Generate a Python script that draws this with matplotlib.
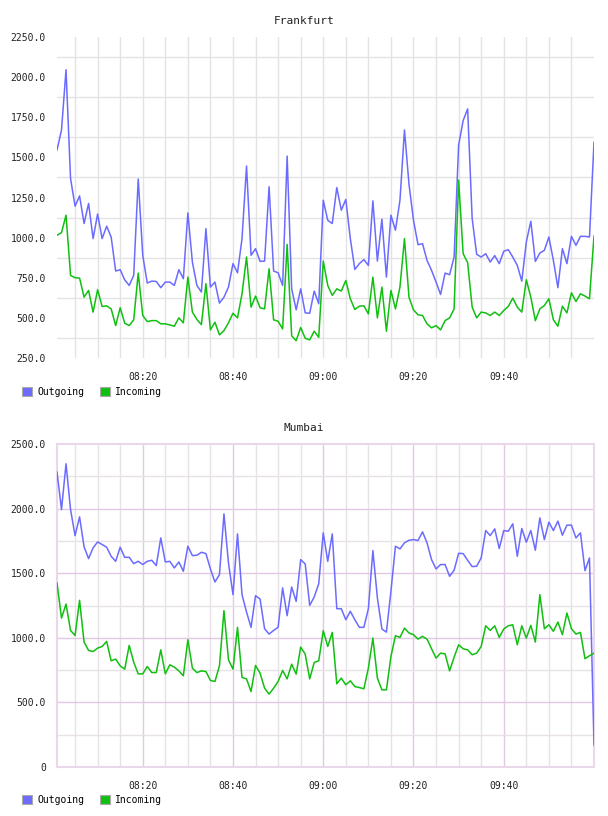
import matplotlib
matplotlib.use("Agg")
import matplotlib.pyplot as plt
from matplotlib.patches import Patch
from matplotlib.ticker import FixedLocator, FuncFormatter

plt.rcParams['font.family'] = ['DejaVu Sans Mono']

# one sample per minute, starting at 08:01
start_minute = 8 * 60 + 1
n_points = 120
minutes = [start_minute + k for k in range(n_points)]

frankfurt_out = [1546, 1671, 2046, 1369, 1196, 1260, 1088, 1213, 994, 1147,
                 994, 1071, 1004, 792, 800, 737, 702, 765, 1365, 890,
                 717, 729, 727, 688, 723, 723, 702, 800, 744, 1154,
                 848, 702, 661, 1056, 692, 723, 592, 629, 692, 838,
                 781, 994, 1446, 890, 931, 852, 854, 1317, 792, 781,
                 702, 1508, 681, 550, 681, 531, 529, 667, 588, 1233,
                 1108, 1088, 1312, 1171, 1238, 994, 802, 838, 863, 827,
                 1229, 854, 1115, 754, 1140, 1046, 1233, 1671, 1333, 1108,
                 956, 962, 858, 796, 723, 646, 779, 769, 879, 1577,
                 1729, 1802, 1119, 896, 879, 900, 848, 888, 838, 915,
                 925, 879, 827, 729, 973, 1102, 852, 904, 921, 1004,
                 858, 688, 931, 838, 1008, 952, 1008, 1008, 1004, 1594]

frankfurt_in = [1015, 1031, 1140, 765, 750, 748, 629, 671, 536, 675,
                571, 575, 556, 452, 563, 467, 452, 488, 779, 515,
                477, 483, 483, 463, 463, 456, 448, 500, 469, 754,
                536, 490, 458, 713, 425, 473, 394, 421, 469, 529,
                500, 650, 879, 567, 636, 563, 556, 806, 488, 479,
                431, 958, 388, 358, 440, 373, 363, 417, 379, 854,
                702, 640, 681, 667, 733, 619, 552, 573, 575, 525,
                754, 500, 692, 417, 671, 556, 692, 994, 629, 550,
                519, 515, 463, 438, 452, 425, 483, 500, 556, 1358,
                900, 844, 567, 500, 536, 531, 515, 536, 515, 546,
                571, 623, 567, 536, 738, 629, 483, 556, 577, 619,
                488, 448, 573, 531, 656, 602, 650, 636, 619, 1010]

mumbai_out = [2283, 1993, 2347, 1993, 1791, 1936, 1704, 1613, 1696, 1742,
              1722, 1701, 1631, 1592, 1701, 1623, 1623, 1574, 1592, 1567,
              1592, 1600, 1559, 1773, 1587, 1592, 1541, 1587, 1515, 1709,
              1636, 1639, 1662, 1652, 1533, 1432, 1489, 1959, 1579, 1334,
              1804, 1334, 1199, 1081, 1326, 1300, 1070, 1029, 1057, 1081,
              1386, 1171, 1393, 1282, 1605, 1572, 1251, 1316, 1419, 1812,
              1592, 1804, 1225, 1225, 1140, 1205, 1140, 1081, 1081, 1225,
              1675, 1308, 1068, 1044, 1360, 1709, 1688, 1735, 1755, 1760,
              1753, 1820, 1735, 1605, 1533, 1567, 1567, 1476, 1523, 1654,
              1652, 1600, 1551, 1554, 1618, 1830, 1791, 1843, 1691, 1830,
              1825, 1882, 1631, 1846, 1740, 1830, 1678, 1928, 1760, 1895,
              1830, 1903, 1794, 1872, 1872, 1773, 1812, 1520, 1618, 171]

mumbai_in = [1424, 1153, 1261, 1057, 1018, 1290, 967, 902, 894, 920,
             933, 972, 822, 835, 783, 757, 941, 811, 721, 721,
             778, 731, 731, 907, 721, 791, 773, 744, 706, 985,
             765, 731, 744, 739, 670, 662, 783, 1210, 830, 757,
             1081, 693, 682, 584, 786, 726, 610, 564, 610, 662,
             747, 682, 796, 719, 928, 874, 682, 809, 822, 1055,
             933, 1042, 644, 688, 636, 667, 623, 615, 605, 765,
             998, 688, 597, 597, 856, 1016, 1003, 1075, 1037, 1024,
             990, 1011, 990, 915, 843, 881, 876, 744, 850, 946,
             915, 907, 869, 881, 933, 1093, 1057, 1093, 1003, 1068,
             1093, 1101, 946, 1093, 998, 1096, 967, 1334, 1070, 1101,
             1050, 1122, 1024, 1192, 1070, 1029, 1042, 838, 861, 881]

series_names = ['Outgoing', 'Incoming']
series_colors = ['#6b6bff', '#11bf11']
x_label_minutes = [500, 520, 540, 560, 580]   # 08:20 ... 09:40


def hhmm(v, pos=None):
    v = int(round(v))
    return '%02d:%02d' % (v // 60, v % 60)


fig = plt.figure(figsize=(6.08, 8.16), dpi=100)
W, H = 608.0, 816.0


def make_axes(top_px, bottom_px):
    return fig.add_axes([57 / W, 1 - bottom_px / H, (594 - 57) / W, (bottom_px - top_px) / H])


def draw(ax, out_vals, in_vals):
    ax.plot(minutes, out_vals, color=series_colors[0], lw=1.1, zorder=3)
    ax.plot(minutes, in_vals, color=series_colors[1], lw=1.1, zorder=3)
    ax.set_xlim(minutes[0], minutes[-1])
    ax.xaxis.set_major_locator(FixedLocator(x_label_minutes))
    ax.xaxis.set_major_formatter(FuncFormatter(hhmm))
    ax.tick_params(length=0, labelsize=7, pad=8, colors='#222222')
    ax.tick_params(axis='x', pad=10)


# ---- Frankfurt
ax1 = make_axes(37, 358)
draw(ax1, frankfurt_out, frankfurt_in)
ax1.set_ylim(250, 2250)
ax1.set_yticks(range(250, 2251, 250))
ax1.yaxis.set_major_formatter(FuncFormatter(lambda v, p: '%.1f' % v))
for s in ax1.spines.values():
    s.set_visible(False)
for m in range(485, 600, 5):
    ax1.axvline(m, color='#e3e3e3', lw=1, zorder=1)
for v in range(375, 2250, 250):
    ax1.axhline(v, color='#e3e3e3', lw=1, zorder=1)
fig.text(304 / W, 1 - 21 / H, 'Frankfurt', ha='center', va='center', fontsize=8, color='#222222')

# ---- Mumbai
ax2 = make_axes(444, 767)
draw(ax2, mumbai_out, mumbai_in)
ax2.set_ylim(0, 2500)
ax2.set_yticks(range(0, 2501, 500))
ax2.yaxis.set_major_formatter(FuncFormatter(lambda v, p: '0' if v == 0 else '%.1f' % v))
for s in ax2.spines.values():
    s.set_color('#ead8ea')
    s.set_linewidth(1.5)
for m in range(485, 600, 5):
    major = (m % 20 == 0)
    ax2.axvline(m, color='#e2c8e2' if major else '#e8e2e8', lw=1, zorder=1)
for v in range(250, 2500, 250):
    major = (v % 500 == 0)
    ax2.axhline(v, color='#e2c8e2' if major else '#e8e2e8', lw=1, zorder=1)
fig.text(304 / W, 1 - 428 / H, 'Mumbai', ha='center', va='center', fontsize=8, color='#222222')

# ---- legends
handles = [Patch(facecolor=c, edgecolor='#aaaaaa', lw=0.8) for c in series_colors]
for y_px in (392, 800):
    fig.legend(handles, series_names, loc='center left', bbox_to_anchor=(22 / W, 1 - y_px / H),
               ncol=2, frameon=False, fontsize=7, handlelength=1.05, handleheight=1.05,
               handletextpad=0.5, columnspacing=1.6, borderpad=0, borderaxespad=0)

fig.savefig('out.png', dpi=100)
